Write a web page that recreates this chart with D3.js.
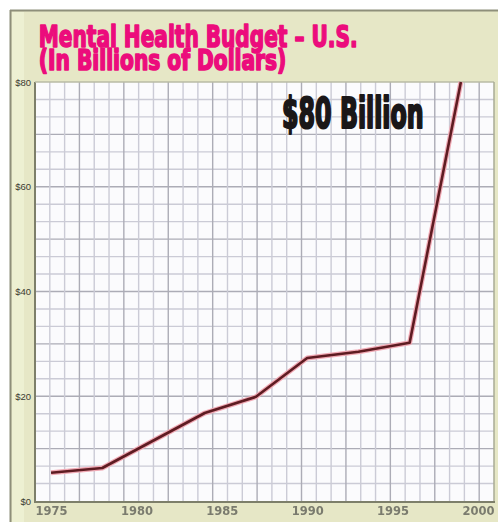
<!DOCTYPE html>
<html>
<head>
<meta charset="utf-8">
<script src="https://cdn.jsdelivr.net/npm/d3@7/dist/d3.min.js"></script>
<style>
  html, body { margin: 0; padding: 0; background: #ffffff; }
  svg { display: block; }
</style>
</head>
<body>
<svg id="chart" width="498" height="522"></svg>
<script>
// Mental health budget, U.S., billions of dollars
const years  = [1975, 1978, 1984, 1987, 1990, 1993, 1996, 1999];
const budget = [5.4, 6.3, 16.8, 19.9, 27.3, 28.5, 30.2, 80];

const yTicks = [0, 20, 40, 60, 80];
const yTickLabels = ["$0", "$20", "$40", "$60", "$80"];
const xTicks = [1975, 1980, 1985, 1990, 1995, 2000];
const xTickLabels = ["1975", "1980", "1985", "1990", "1995", "2000"];

const titleLines = ["Mental Health Budget \u2013 U.S.", "(In Billions of Dollars)"];
const callout = "$80 Billion";

const svg = d3.select("#chart");
const W = 498, H = 522;
const plot = { left: 35, top: 82, right: 494, bottom: 501 };

const x = d3.scaleLinear().domain([1974.06, 2000.94]).range([plot.left, plot.right]);
const y = d3.scaleLinear().domain([0, 80]).range([plot.bottom, plot.top]);

// outer beige panel
svg.append("rect").attr("x", 10).attr("y", 10).attr("width", W - 10).attr("height", H - 10)
  .attr("fill", "#e6e7c6");
// lighter band along the left edge
svg.append("rect").attr("x", 12).attr("y", 12).attr("width", 12).attr("height", H - 12)
  .attr("fill", "#edf0d2");
// panel border (top and left)
svg.append("line").attr("x1", 10).attr("x2", W).attr("y1", 10.5).attr("y2", 10.5)
  .attr("stroke", "#8e8f7a").attr("stroke-width", 2);
svg.append("line").attr("x1", 10.5).attr("x2", 10.5).attr("y1", 10).attr("y2", H)
  .attr("stroke", "#8e8f7a").attr("stroke-width", 2);

// plot area
svg.append("rect").attr("x", plot.left).attr("y", plot.top)
  .attr("width", plot.right - plot.left).attr("height", plot.bottom - plot.top)
  .attr("fill", "#fbfbfd");

// decorative graph-paper grid
const grid = svg.append("g");
const hDiv = 24, vDiv = 31;
d3.range(1, hDiv).forEach(i => {
  const v = 80 * i / hDiv;
  grid.append("line")
    .attr("x1", plot.left).attr("x2", plot.right)
    .attr("y1", y(v)).attr("y2", y(v))
    .attr("stroke", i % 3 === 0 ? "#acacb6" : "#cbcbd6")
    .attr("stroke-width", 1.4);
});
const xd = x.domain();
d3.range(1, vDiv).forEach(i => {
  const v = xd[0] + (xd[1] - xd[0]) * i / vDiv;
  grid.append("line")
    .attr("y1", plot.top).attr("y2", plot.bottom)
    .attr("x1", x(v)).attr("x2", x(v))
    .attr("stroke", i % 3 === 0 ? "#acacb6" : "#cbcbd6")
    .attr("stroke-width", 1.4);
});

// plot frame
svg.append("line").attr("x1", plot.left).attr("x2", plot.left)
  .attr("y1", plot.top).attr("y2", plot.bottom + 2)
  .attr("stroke", "#7d7f6a").attr("stroke-width", 2);
svg.append("line").attr("x1", plot.left).attr("x2", plot.right + 1)
  .attr("y1", plot.bottom + 1).attr("y2", plot.bottom + 1)
  .attr("stroke", "#7d7f6a").attr("stroke-width", 2);
svg.append("line").attr("x1", plot.left).attr("x2", plot.right)
  .attr("y1", plot.top).attr("y2", plot.top)
  .attr("stroke", "#b9bba4").attr("stroke-width", 1.5);
svg.append("line").attr("x1", plot.right).attr("x2", plot.right)
  .attr("y1", plot.top).attr("y2", plot.bottom)
  .attr("stroke", "#a9ab94").attr("stroke-width", 1.5);

// axes
const yAxis = d3.axisLeft(y).tickValues(yTicks)
  .tickFormat((d, i) => yTickLabels[i]).tickSize(0).tickPadding(4);
const gy = svg.append("g").attr("transform", `translate(${plot.left},0)`).call(yAxis);
gy.select(".domain").remove();
gy.selectAll("text").attr("font-family", "Arial, 'Liberation Sans', sans-serif")
  .attr("font-size", 9.5).attr("fill", "#3a3a30");

const xAxis = d3.axisBottom(x).tickValues(xTicks)
  .tickFormat((d, i) => xTickLabels[i]).tickSize(0).tickPadding(4);
const gx = svg.append("g").attr("transform", `translate(0,${plot.bottom + 2})`).call(xAxis);
gx.select(".domain").remove();
gx.selectAll("text").attr("font-family", "'DejaVu Sans', sans-serif")
  .attr("font-size", 11.5).attr("fill", "#7a7b6e").attr("font-weight", "bold")
  .style("filter", "blur(0.6px)");

// budget line: pink halo under a dark maroon core
const line = d3.line().x((d, i) => x(years[i])).y(d => y(d));
svg.append("path").datum(budget).attr("d", line)
  .attr("fill", "none").attr("stroke", "#f0a9b4").attr("stroke-width", 5)
  .attr("stroke-linejoin", "round");
svg.append("path").datum(budget).attr("d", line)
  .attr("fill", "none").attr("stroke", "#5e1c22").attr("stroke-width", 2.6)
  .attr("stroke-linejoin", "round");

// heavy condensed text, squeezed horizontally to a target width
const condensed = "'DejaVu Sans Condensed', 'DejaVu Sans', sans-serif";
function heavyText(str, left, baseline, size, width, color, outline) {
  const t = svg.append("text").attr("x", 0).attr("y", 0)
    .attr("font-family", condensed).attr("font-weight", "bold").attr("font-size", size)
    .attr("fill", color).attr("stroke", color).attr("stroke-width", outline)
    .attr("stroke-linejoin", "round")
    .text(str);
  const natural = t.node().getComputedTextLength() + outline;
  const sx = width / natural;
  t.attr("transform", `translate(${left + outline / 2},${baseline}) scale(${sx},1)`);
  return t;
}

// title
const titleBaselines = [47, 70];
const titleSizes = [30.5, 27.5];
const titleWidths = [320, 249];
titleLines.forEach((t, i) =>
  heavyText(t, 38, titleBaselines[i], titleSizes[i], titleWidths[i], "#ec0c7c", 1.6));

// value callout
heavyText(callout, 281, 128, 42, 143, "#1a1718", 2.2);
</script>
</body>
</html>
